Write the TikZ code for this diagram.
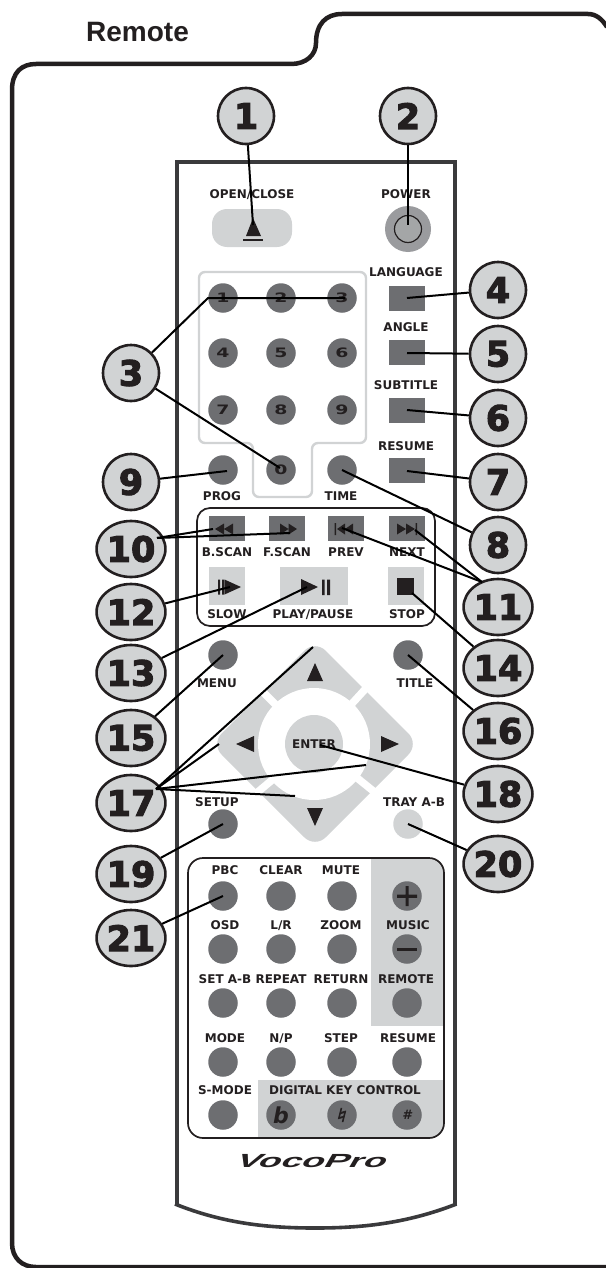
\documentclass[tikz,border=0pt]{standalone}
\usepackage{fontspec}
\setmainfont{DejaVu Sans}
\newfontfamily\titlefont{Liberation Sans}
\newfontfamily\callfont[BoldFeatures={FakeBold=3}]{DejaVu Sans}
\newfontfamily\logofont{Liberation Sans}
\definecolor{ink}{HTML}{231F20}
\definecolor{lite}{HTML}{D1D3D4}
\definecolor{midg}{HTML}{6D6E71}
\definecolor{bodyc}{HTML}{3A3A3C}
\newcommand{\wdig}[1]{\scalebox{1.45}[1]{#1}}
\tikzset{
  callout/.style={ellipse,draw=ink,line width=2.6pt,fill=lite,minimum width=56pt,minimum height=56pt,inner sep=0pt,text=ink,font=\callfont\bfseries\fontsize{35}{35}\selectfont},
  lab/.style={text=ink,inner sep=0pt,text height=8.8pt,text depth=0pt,font=\bfseries\fontsize{12}{12}\selectfont},
  rbtn/.style={circle,fill=midg,minimum size=29.5pt,inner sep=0pt,text=ink,font=\bfseries\fontsize{13}{13}\selectfont},
  sqbtn/.style={rectangle,fill=midg,inner sep=0pt},
  ltbtn/.style={rectangle,fill=lite,inner sep=0pt},
  leader/.style={draw=black,line width=2pt},
  icon/.style={fill=ink,draw=none},
}
\usetikzlibrary{shapes.geometric}
\begin{document}
\begin{tikzpicture}[x=1pt,y=-1pt]
\useasboundingbox (0,0) rectangle (605,1268);
% page frame
\draw[ink,line width=4.5pt] (12,1243) -- (12,90) .. controls (12,72) and (22,64) .. (36,64)
  -- (291,64) .. controls (306,64) and (316,55) .. (316,43) .. controls (316,24) and (326,14) .. (342,14)
  -- (588,14) .. controls (596,14) and (602,19) .. (607,27);
\draw[ink,line width=4.5pt] (12,1243) .. controls (12,1258) and (22,1267) .. (36,1267) -- (607,1267);
\node[anchor=base west,inner sep=0pt,text=ink,font=\titlefont\bfseries\fontsize{28}{28}\selectfont] (title) at (86,42) {Remote};
% remote body
\draw[bodyc,line width=4pt] (177,1205) -- (177,162) -- (454.5,162) -- (454.5,1205);
\draw[bodyc,line width=3.6pt] (175,1204) .. controls (225,1224) and (270,1228) .. (315,1228) .. controls (360,1228) and (405,1224) .. (456.5,1204);
% open/close, power
\node[lab] (lopen) at (252,194) {OPEN/CLOSE};
\node[lab] (lpower) at (406,194) {POWER};
\node[ltbtn,rounded corners=15pt,minimum width=80pt,minimum height=38pt] (bopen) at (252,228) {};
\fill[ink] (253,218) -- (261,236) -- (246,236) -- cycle;
\fill[ink] (243,238.8) rectangle (263,241.3);
\node[circle,fill=midg!55!lite,minimum size=46pt,inner sep=0pt] (bpowerout) at (408,229) {};
\node[circle,draw=ink,line width=1.2pt,fill=midg!45!lite,minimum size=27pt,inner sep=0pt] (bpower) at (408,229) {};
% number pad outline
\draw[lite,line width=2.4pt,rounded corners=6pt] (199,272) -- (366,272) -- (366,443) -- (312,443) -- (312,497) -- (253,497) -- (253,443) -- (199,443) -- cycle;
\node[rbtn] (b1) at (223,298) {\wdig{1}};
\node[rbtn] (b2) at (281,298) {\wdig{2}};
\node[rbtn] (b3) at (342,298) {\wdig{3}};
\node[rbtn] (b4) at (223,353) {\wdig{4}};
\node[rbtn] (b5) at (281,353) {\wdig{5}};
\node[rbtn] (b6) at (342,353) {\wdig{6}};
\node[rbtn] (b7) at (223,410) {\wdig{7}};
\node[rbtn] (b8) at (281,410) {\wdig{8}};
\node[rbtn] (b9) at (342,410) {\wdig{9}};
\node[rbtn] (b0) at (281,470) {\wdig{0}};
\node[rbtn] (bprog) at (223,470) {};
\node[rbtn] (btime) at (342,470) {};
\node[lab] (lprog) at (222,496) {PROG};
\node[lab] (ltime) at (341,496) {TIME};
% right column squares
\node[lab] (llang) at (406,272) {LANGUAGE};
\node[lab] (langle) at (406,327) {ANGLE};
\node[lab] (lsub) at (406,385) {SUBTITLE};
\node[lab] (lres) at (406,446) {RESUME};
\node[sqbtn,minimum width=36pt,minimum height=25pt] (blang) at (407,298.5) {};
\node[sqbtn,minimum width=36pt,minimum height=25pt] (bangle) at (407,352.5) {};
\node[sqbtn,minimum width=36pt,minimum height=25pt] (bsub) at (407,410.5) {};
\node[sqbtn,minimum width=36pt,minimum height=25pt] (bres) at (407,470.5) {};
% transport box
\draw[ink,line width=1.7pt,rounded corners=13pt] (197,508) rectangle (435,626);
\node[sqbtn,minimum width=36pt,minimum height=25pt] (bbscan) at (227,528.5) {};
\node[sqbtn,minimum width=36pt,minimum height=25pt] (bfscan) at (287,528.5) {};
\node[sqbtn,minimum width=36pt,minimum height=25pt] (bprev) at (346,528.5) {};
\node[sqbtn,minimum width=36pt,minimum height=25pt] (bnext) at (407,528.5) {};
\fill[icon] (215,529) -- (224,523.5) -- (224,534.5) -- cycle (224,529) -- (233,523.5) -- (233,534.5) -- cycle;
\fill[icon] (297,529) -- (288.5,523.5) -- (288.5,534.5) -- cycle (288.5,529) -- (280,523.5) -- (280,534.5) -- cycle;
\fill[icon] (334.5,523) rectangle (336,535) (337,529) -- (345,523.5) -- (345,534.5) -- cycle (345,529) -- (353,523.5) -- (353,534.5) -- cycle;
\fill[icon] (417,523) rectangle (415.5,535) (415,529) -- (406,523.5) -- (406,534.5) -- cycle (406,529) -- (397,523.5) -- (397,534.5) -- cycle;
\node[lab] (lbscan) at (227,552) {B.SCAN};
\node[lab] (lfscan) at (287,552) {F.SCAN};
\node[lab] (lprev) at (346,552) {PREV};
\node[lab] (lnext) at (407,552) {NEXT};
\node[ltbtn,minimum width=36pt,minimum height=38pt] (bslow) at (227,586) {};
\node[ltbtn,minimum width=68pt,minimum height=38pt] (bplay) at (314,586) {};
\node[ltbtn,minimum width=36pt,minimum height=38pt] (bstop) at (406,586) {};
\fill[icon] (218,579.5) rectangle (220,594.5) (222,579.5) rectangle (224,594.5) (224.5,579.5) -- (241,587) -- (224.5,594.5) -- cycle;
\fill[icon] (301,579) -- (318,587) -- (301,595) -- cycle (322,579.5) rectangle (324.5,595) (327,579.5) rectangle (330,595);
\fill[icon] (397,578) rectangle (414,595);
\node[lab] (lslow) at (227,614) {SLOW};
\node[lab] (lplay) at (313,614) {PLAY/PAUSE};
\node[lab] (lstop) at (407,614) {STOP};
% menu row
\node[rbtn] (bmenu) at (223,655) {};
\node[rbtn] (btitle) at (408,655) {};
\node[lab] (lmenu) at (217,683) {MENU};
\node[lab] (ltitle) at (415,683) {TITLE};
% d-pad
\fill[lite,rounded corners=15pt] (315,640) -- (419,744) -- (315,848) -- (211,744) -- cycle;
\draw[white,line width=7.5pt] (315,744) -- +(54,-59) (315,744) -- +(-56,-56) (315,744) -- +(62,50) (315,744) -- +(-62,52);
\fill[white] (314,744) circle[radius=56];
\node[circle,fill=lite,minimum size=58pt,inner sep=0pt] (benter) at (314,744) {};
\node[lab] (lenter) at (314,744) {ENTER};
\fill[icon] (315,663) -- (323,681) -- (307,681) -- cycle;
\fill[icon] (315,826) -- (323,808) -- (307,808) -- cycle;
\fill[icon] (236,744) -- (254,736) -- (254,752) -- cycle;
\fill[icon] (399,744) -- (381,736) -- (381,752) -- cycle;
\node[lab] (lsetup) at (217,802) {SETUP};
\node[lab] (ltray) at (414,802) {TRAY A-B};
\node[rbtn] (bsetup) at (223,824) {};
\node[rbtn,fill=lite] (btray) at (408,824) {};
% bottom box
\begin{scope}
\clip[rounded corners=15pt] (188,858) rectangle (444,1138);
\fill[lite] (371,858) rectangle (444,1026);
\fill[lite] (258,1080) rectangle (444,1138);
\end{scope}
\draw[ink,line width=1.7pt,rounded corners=15pt] (188,858) rectangle (444,1138);
\node[lab] (lpbc) at (225,870) {PBC};
\node[lab] (lclear) at (281,870) {CLEAR};
\node[lab] (lmute) at (341,870) {MUTE};
\node[rbtn] (bpbc) at (223,896) {};
\node[rbtn] (bclear) at (281,896) {};
\node[rbtn] (bmute) at (342,896) {};
\node[rbtn] (bplus) at (407,896) {};
\fill[ink] (397,894.7) rectangle (417,897.8) (405.5,886) rectangle (408.6,906);
\node[lab] (losd) at (225,925) {OSD};
\node[lab] (llr) at (281,925) {L/R};
\node[lab] (lzoom) at (341,925) {ZOOM};
\node[lab] (lmusic) at (408,925) {MUSIC};
\node[rbtn] (bosd) at (223,949) {};
\node[rbtn] (blr) at (281,949) {};
\node[rbtn] (bzoom) at (342,949) {};
\node[rbtn] (bminus) at (407,949) {};
\fill[ink] (397,947.7) rectangle (417,950.8);
\node[lab] (lseta) at (225,979) {SET A-B};
\node[lab] (lrepeat) at (281,979) {REPEAT};
\node[lab] (lreturn) at (341,979) {RETURN};
\node[lab] (lremote) at (406,979) {REMOTE};
\node[rbtn] (bseta) at (223,1003) {};
\node[rbtn] (brepeat) at (281,1003) {};
\node[rbtn] (breturn) at (342,1003) {};
\node[rbtn] (bremote) at (407,1003) {};
\node[lab] (lmode) at (225,1038) {MODE};
\node[lab] (lnp) at (281,1038) {N/P};
\node[lab] (lstep) at (341,1038) {STEP};
\node[lab] (lresume) at (408,1038) {RESUME};
\node[rbtn] (bmode) at (223,1062) {};
\node[rbtn] (bnp) at (281,1062) {};
\node[rbtn] (bstep) at (342,1062) {};
\node[rbtn] (bresume) at (407,1062) {};
\node[lab] (lsmode) at (225,1090) {S-MODE};
\node[lab] (ldigital) at (345,1090) {DIGITAL KEY CONTROL};
\node[rbtn] (bsmode) at (223,1115) {};
\node[rbtn,font=\callfont\bfseries\itshape\fontsize{22}{22}\selectfont] (bflat) at (281,1115) {b};
\node[rbtn] (bnat) at (342,1115) {};
\node[inner sep=0pt,text=ink,xslant=0.25,xscale=1.5,font=\callfont\bfseries\fontsize{19}{19}\selectfont] (lnat) at (342,1115) {♮};
\node[rbtn,font=\bfseries\itshape\fontsize{13}{13}\selectfont] (bsharp) at (407,1115) {\#};
\node[text=ink,inner sep=0pt,xscale=1.95,xslant=0.3,font=\logofont\bfseries\fontsize{19}{19}\selectfont] (logo) at (313,1161) {VocoPro};
% callouts
\node[callout] (c1) at (246,116) {1};
\node[callout] (c2) at (408,116) {2};
\node[callout] (c3) at (131,373) {3};
\node[callout] (c4) at (498,290) {4};
\node[callout] (c5) at (498,354) {5};
\node[callout] (c6) at (498,418) {6};
\node[callout] (c7) at (498,482) {7};
\node[callout] (c8) at (498,545) {8};
\node[callout] (c9) at (131,482) {9};
\node[callout] (c10) at (131,549) {10};
\node[callout] (c11) at (498,607) {11};
\node[callout] (c12) at (131,612) {12};
\node[callout] (c13) at (131,673) {13};
\node[callout] (c14) at (498,668) {14};
\node[callout] (c15) at (131,738) {15};
\node[callout] (c16) at (498,731) {16};
\node[callout] (c17) at (131,803) {17};
\node[callout] (c18) at (498,794) {18};
\node[callout] (c19) at (131,874) {19};
\node[callout] (c20) at (498,864) {20};
\node[callout] (c21) at (131,938) {21};
% connector ends
\coordinate (t1) at (253,225);
\coordinate (t2) at (408,225);
\coordinate (t3a) at (208,298);
\coordinate (t3b) at (345,298);
\coordinate (t3c) at (280,468);
\coordinate (t4) at (407,298);
\coordinate (t5) at (407,353);
\coordinate (t6) at (407,410);
\coordinate (t7) at (407,471);
\coordinate (t8) at (342,470);
\coordinate (t9) at (227,471);
\coordinate (s10) at (157,538);
\coordinate (t10a) at (213,529);
\coordinate (t10b) at (290,533);
\coordinate (s11) at (482,582);
\coordinate (t11a) at (342,528);
\coordinate (t11b) at (415,530);
\coordinate (t12) at (230,587);
\coordinate (t13) at (307,587);
\coordinate (t14) at (412,593);
\coordinate (t15) at (223,655);
\coordinate (t16) at (408,655);
\coordinate (s17) at (156,789);
\coordinate (t17a) at (313,647);
\coordinate (t17b) at (219,744);
\coordinate (t17c) at (366,765);
\coordinate (t17d) at (295,796);
\coordinate (t18) at (320,745);
\coordinate (t19) at (223,824);
\coordinate (t20) at (408,824);
\coordinate (t21) at (223,896);
% connectors
\draw[leader] (c1) -- (t1);
\draw[leader] (c2) -- (t2);
\draw[leader,line join=miter] (c3) -- (t3a) -- (t3b);
\draw[leader] (c3) -- (t3c);
\draw[leader] (c4) -- (t4);
\draw[leader] (c5) -- (t5);
\draw[leader] (c6) -- (t6);
\draw[leader] (c7) -- (t7);
\draw[leader] (c8) -- (t8);
\draw[leader] (c9) -- (t9);
\draw[leader] (s10) -- (t10a);
\draw[leader] (s10) -- (t10b);
\draw[leader] (s11) -- (t11a);
\draw[leader] (s11) -- (t11b);
\draw[leader] (c12) -- (t12);
\draw[leader] (c13) -- (t13);
\draw[leader] (c14) -- (t14);
\draw[leader] (c15) -- (t15);
\draw[leader] (c16) -- (t16);
\draw[leader] (s17) -- (t17a);
\draw[leader] (s17) -- (t17b);
\draw[leader] (s17) -- (t17c);
\draw[leader] (s17) -- (t17d);
\draw[leader] (c18) -- (t18);
\draw[leader] (c19) -- (t19);
\draw[leader] (c20) -- (t20);
\draw[leader] (c21) -- (t21);
\end{tikzpicture}
\end{document}
